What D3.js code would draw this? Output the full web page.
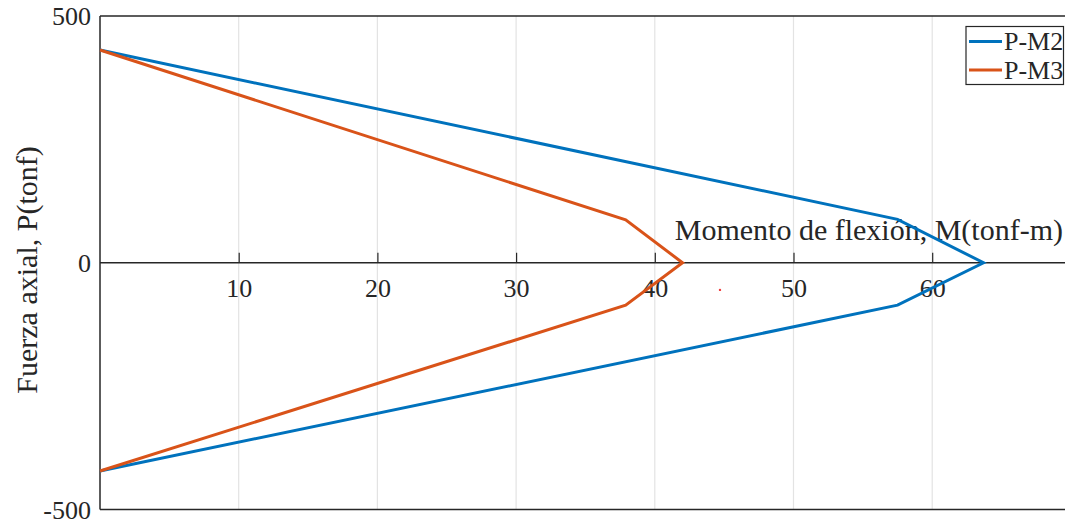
<!DOCTYPE html>
<html>
<head>
<meta charset="utf-8">
<script src="https://cdn.jsdelivr.net/npm/d3@7"></script>
<style>
  html, body { margin: 0; padding: 0; background: #fff; }
  svg { display: block; font-family: "Liberation Serif", "Times New Roman", serif; }
</style>
</head>
<body>
<svg id="chart" width="1065" height="525"></svg>
<script>
// Interaction diagram: axial force vs bending moment
const seriesNames = ["P-M2", "P-M3"];
const seriesColors = ["#0072BD", "#D95319"];
const momentM2 = [0, 57.5, 63.7, 57.5, 0];
const axialM2  = [431, 88, 0, -86, -422];
const momentM3 = [0, 37.9, 42.0, 37.9, 0];
const axialM3  = [431, 87, 0, -86, -422];
const xTicks = [10, 20, 30, 40, 50, 60];
const yTicks = [-500, 0, 500];
const strayPoint = [44.7, -55];

const svg = d3.select("#chart");
const plotLeft = 100, plotTop = 16, plotBottom = 509.5;
const x = d3.scaleLinear().domain([0, 70]).range([plotLeft, plotLeft + 970.9]);
const y = d3.scaleLinear().domain([-500, 500]).range([plotBottom, plotTop]);
const axisColor = "#262626";
const plainNumber = d => String(d);

// vertical grid lines
svg.append("g").selectAll("line").data(xTicks).join("line")
  .attr("x1", d => x(d)).attr("x2", d => x(d))
  .attr("y1", plotTop).attr("y2", plotBottom)
  .attr("stroke", "#e3e3e3").attr("stroke-width", 1.2);

// frame: left, top, bottom
svg.append("line").attr("x1", plotLeft).attr("x2", plotLeft).attr("y1", plotTop).attr("y2", plotBottom)
  .attr("stroke", axisColor).attr("stroke-width", 1.5);
svg.append("line").attr("x1", plotLeft).attr("x2", 1080).attr("y1", plotTop).attr("y2", plotTop)
  .attr("stroke", axisColor).attr("stroke-width", 1.5);
svg.append("line").attr("x1", plotLeft).attr("x2", 1080).attr("y1", plotBottom).attr("y2", plotBottom)
  .attr("stroke", axisColor).attr("stroke-width", 1.5);

// x axis through origin, ticks pointing up, labels below
const xAxis = d3.axisBottom(x).tickValues(xTicks).tickSize(0).tickPadding(0).tickFormat(plainNumber);
const gx = svg.append("g").attr("transform", `translate(0,${y(0)})`).call(xAxis);
gx.select(".domain").remove();
gx.selectAll(".tick line").remove();
gx.selectAll(".tick").append("line").attr("y1", 0).attr("y2", -10)
  .attr("stroke", axisColor).attr("stroke-width", 1.2);
gx.selectAll(".tick text").attr("dy", null).attr("y", 34)
  .attr("font-size", 26).attr("fill", axisColor).attr("font-family", "Liberation Serif");
svg.append("line").attr("x1", plotLeft).attr("x2", 1080).attr("y1", y(0)).attr("y2", y(0))
  .attr("stroke", axisColor).attr("stroke-width", 1.5);

// y axis labels
const yAxis = d3.axisLeft(y).tickValues(yTicks).tickSize(0).tickPadding(9).tickFormat(plainNumber);
const gy = svg.append("g").attr("transform", `translate(${plotLeft},0)`).call(yAxis);
gy.select(".domain").remove();
gy.selectAll(".tick text").attr("font-size", 26).attr("fill", axisColor)
  .attr("font-family", "Liberation Serif").attr("dy", "0.34em");

// axis titles
svg.append("text").attr("x", 1063).attr("y", 240).attr("text-anchor", "end")
  .attr("font-size", 30).attr("fill", axisColor).text("Momento de flexión, M(tonf-m)");
svg.append("text").attr("transform", "translate(37,270) rotate(-90)").attr("text-anchor", "middle")
  .attr("font-size", 30).attr("fill", axisColor).text("Fuerza axial, P(tonf)");

// curves
const line = d3.line().x(d => x(d[0])).y(d => y(d[1]));
const series = [
  d3.zip(momentM2, axialM2),
  d3.zip(momentM3, axialM3)
];
svg.append("g").selectAll("path").data(series).join("path")
  .attr("d", line).attr("fill", "none")
  .attr("stroke", (d, i) => seriesColors[i]).attr("stroke-width", 3)
  .attr("stroke-linejoin", "miter");

svg.append("circle").attr("cx", x(strayPoint[0])).attr("cy", y(strayPoint[1])).attr("r", 1.2)
  .attr("fill", "#f04040");

// legend
const lg = svg.append("g");
lg.append("rect").attr("x", 966).attr("y", 26.5).attr("width", 97.5).attr("height", 58)
  .attr("fill", "#fff").attr("stroke", axisColor).attr("stroke-width", 1.2);
seriesNames.forEach((name, i) => {
  const cy = 41.5 + i * 28.5;
  lg.append("line").attr("x1", 969).attr("x2", 1002).attr("y1", cy).attr("y2", cy)
    .attr("stroke", seriesColors[i]).attr("stroke-width", 3);
  lg.append("text").attr("x", 1004).attr("y", cy).attr("dy", "0.34em")
    .attr("font-size", 26).attr("fill", axisColor).text(name);
});
</script>
</body>
</html>
